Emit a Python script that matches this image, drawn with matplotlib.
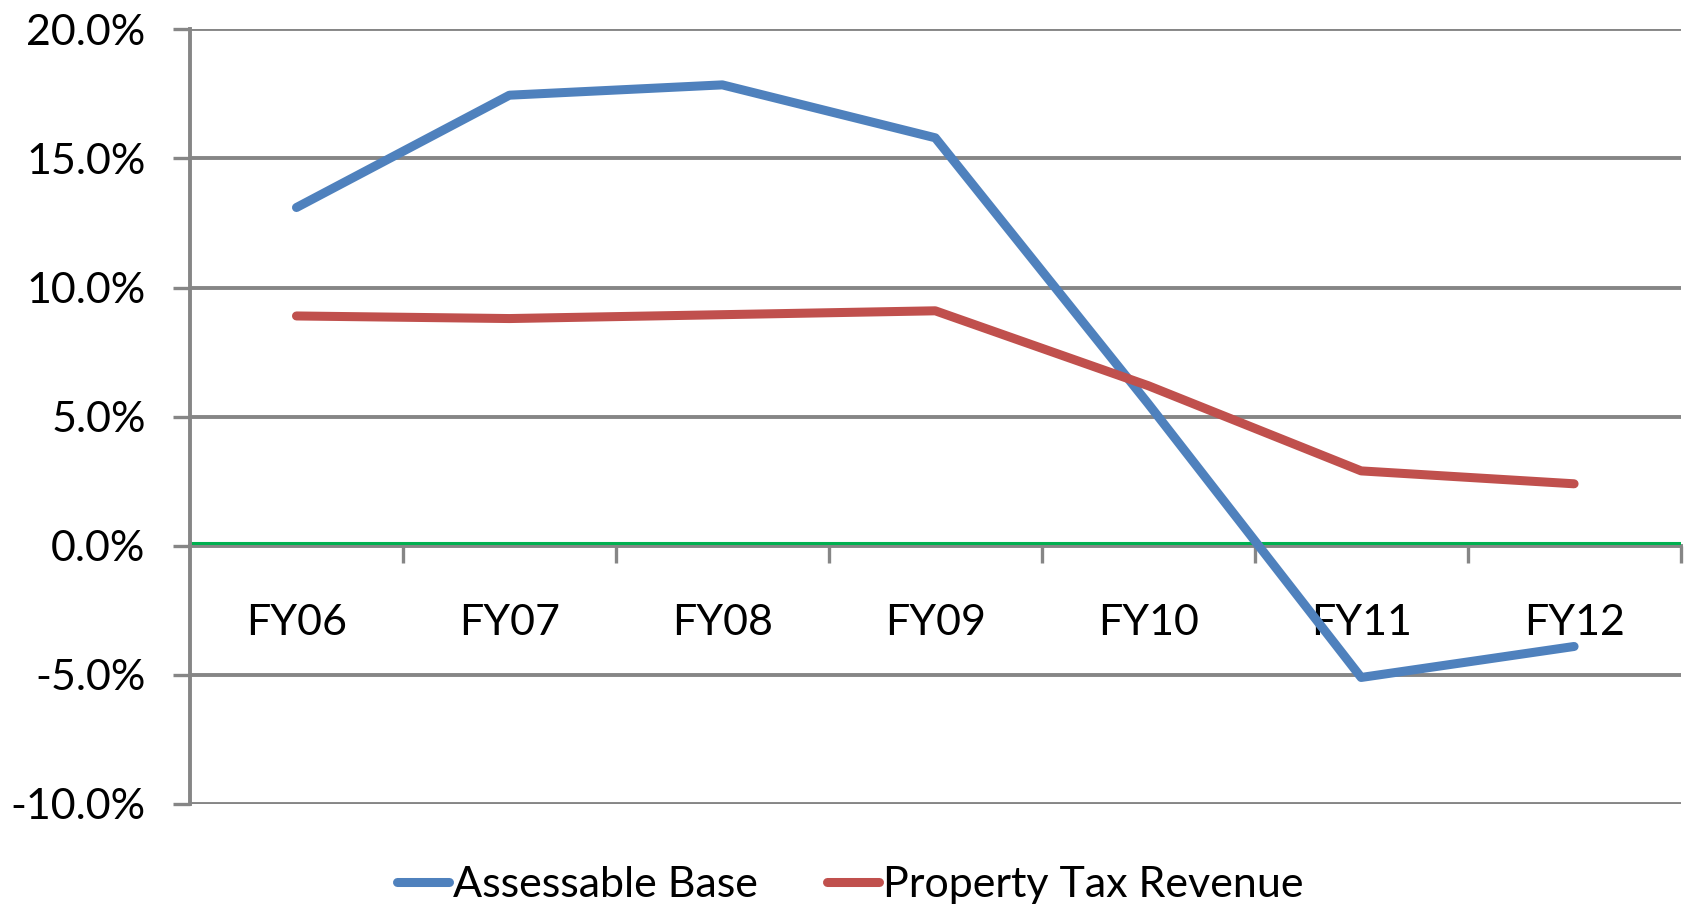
import matplotlib
matplotlib.use("Agg")
import matplotlib.pyplot as plt
from matplotlib.ticker import FixedLocator, FuncFormatter

plt.rcParams['font.family'] = ['Lato', 'DejaVu Sans']

years = ["FY06", "FY07", "FY08", "FY09", "FY10", "FY11", "FY12"]
assessable_base = [13.1, 17.45, 17.85, 15.8, 5.5, -5.1, -3.9]
property_tax = [8.9, 8.8, 8.95, 9.1, 6.2, 2.9, 2.4]

grey = "#868686"
fig = plt.figure(figsize=(16.89, 9.06), dpi=100)
ax = fig.add_axes([0.1125, 0.1126, 0.8825, 0.855])

x = list(range(len(years)))

# Gridlines
for v in range(-10, 25, 5):
    if v != 0:
        ax.axhline(v, color=grey, lw=2.8, zorder=1)
ax.axhline(0.12, color="#00B050", lw=2.2, zorder=2)

ax.plot(x, assessable_base, color="#4F81BD", lw=6.5, solid_capstyle="round",
        label="Assessable Base", zorder=3)
ax.plot(x, property_tax, color="#C0504D", lw=6.5, solid_capstyle="round",
        label="Property Tax Revenue", zorder=3)

ax.set_xlim(-0.5, 6.5)
ax.set_ylim(-10, 20)

for s in ["top", "right"]:
    ax.spines[s].set_visible(False)
ax.spines["left"].set_color(grey)
ax.spines["left"].set_linewidth(2.8)
ax.spines["bottom"].set_position(("data", 0))
ax.spines["bottom"].set_color(grey)
ax.spines["bottom"].set_linewidth(2.8)
ax.spines["bottom"].set_zorder(1)

ax.yaxis.set_major_locator(FixedLocator(range(-10, 25, 5)))
ax.yaxis.set_major_formatter(FuncFormatter(lambda v, p: f"{v:.1f}%"))
ax.tick_params(axis="y", length=12, width=2.4, color=grey, labelsize=31, pad=20)

ax.xaxis.set_major_locator(FixedLocator(x))
ax.set_xticklabels(years)
ax.xaxis.set_minor_locator(FixedLocator([i + 0.5 for i in x]))
ax.tick_params(axis="x", which="major", length=0, labelsize=31, pad=42)
ax.tick_params(axis="x", which="minor", length=12, width=2.4, color=grey)

ax.legend(loc="upper center", bbox_to_anchor=(0.443, -0.03), ncol=2, frameon=False,
          fontsize=31, handlelength=1.2, handletextpad=0.1, columnspacing=1.6)

fig.savefig("out.png", dpi=100)
